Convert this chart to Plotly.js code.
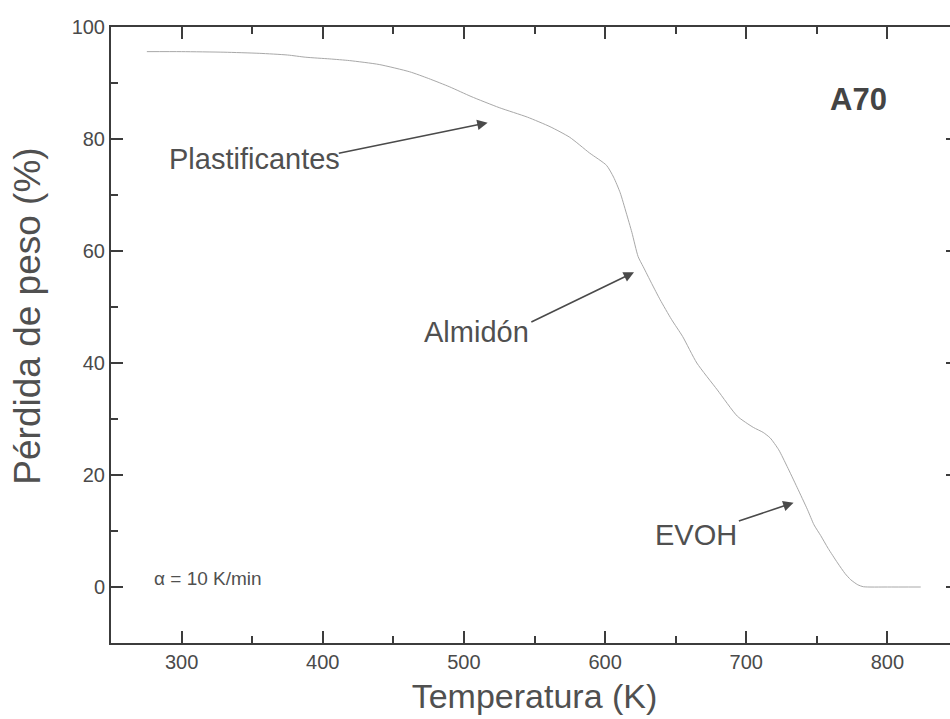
<!DOCTYPE html>
<html>
<head>
<meta charset="utf-8">
<script src="https://cdn.plot.ly/plotly-3.0.1.min.js"></script>
<style>
html,body{margin:0;padding:0;overflow:hidden;background:#ffffff;}
#chart{width:970px;height:719px;}
</style>
</head>
<body>
<div id="chart"></div>
<script>
// Temperature (K) and weight (%)
const temperature = [275.4, 300, 330, 355, 375, 388, 405, 419, 440, 461.6, 475, 490, 505, 525, 545, 561, 575, 589, 601, 606, 610.7, 615, 619, 623.4, 627, 633, 639, 647, 655, 665, 679.5, 693.7, 705, 712, 717, 723, 729, 736, 743.4, 748, 752.7, 758, 764.7, 770, 774, 779, 783, 800, 823.6];
const weight      = [95.6, 95.6, 95.5, 95.3, 95.0, 94.6, 94.3, 94.0, 93.3, 92.0, 90.8, 89.3, 87.6, 85.6, 83.9, 82.2, 80.3, 77.5, 75.3, 73.2, 70.4, 66.8, 63.3, 59.0, 57.2, 54.2, 51.3, 47.8, 44.7, 40.0, 35.2, 30.5, 28.5, 27.6, 26.6, 24.5, 21.5, 17.8, 13.8, 11.1, 9.2, 6.9, 4.3, 2.4, 1.3, 0.4, 0.05, 0.0, 0.0];

const xTickVals = [300, 400, 500, 600, 700, 800];
const yTickVals = [0, 20, 40, 60, 80, 100];

const labelTexts = ["Plastificantes", "Almidón", "EVOH"];
const labelX = [352, 509, 664.6];
const labelY = [76.4, 45.6, 9.3];
const arrowTailX = [410.3, 546.7, 693.7];
const arrowTailY = [77.4, 47.2, 11.7];
const arrowHeadX = [516.8, 620.5, 733.5];
const arrowHeadY = [82.9, 56.2, 15.05];

const sampleName = "A70";
const rateText = "α = 10 K/min";
const xTitle = "Temperatura (K)";
const yTitle = "Pérdida de peso (%)";

const ink = '#3c3c3c';
const font = 'Liberation Sans, Arial, sans-serif';

const annotations = [];
for (let i = 0; i < labelTexts.length; i++) {
  annotations.push({
    x: labelX[i], y: labelY[i], xref: 'x', yref: 'y',
    text: labelTexts[i], showarrow: false,
    xanchor: 'center', yanchor: 'middle',
    font: {family: font, size: 29, color: '#505050'}
  });
  annotations.push({
    x: arrowHeadX[i], y: arrowHeadY[i], xref: 'x', yref: 'y',
    ax: arrowTailX[i], ay: arrowTailY[i], axref: 'x', ayref: 'y',
    text: '', showarrow: true, arrowhead: 2, arrowsize: 1.3,
    arrowwidth: 1.6, arrowcolor: '#4a4a4a', standoff: 0, startstandoff: 0
  });
}
annotations.push({
  x: 779.6, y: 87.05, xref: 'x', yref: 'y', text: '<b>' + sampleName + '</b>',
  showarrow: false, xanchor: 'center', yanchor: 'middle',
  font: {family: font, size: 31, color: '#444'}
});
annotations.push({
  x: 279, y: 1.5, xref: 'x', yref: 'y', text: rateText,
  showarrow: false, xanchor: 'left', yanchor: 'middle',
  font: {family: font, size: 19, color: '#505050'}
});
annotations.push({
  x: -0.099, y: 0.53, xref: 'paper', yref: 'paper', text: yTitle,
  textangle: -90, showarrow: false, xanchor: 'center', yanchor: 'middle',
  font: {family: font, size: 37, color: '#505050'}
});

const trace = {
  x: temperature, y: weight, type: 'scatter', mode: 'lines',
  line: {color: '#a8a8a8', width: 1, shape: 'spline', smoothing: 0.6},
  showlegend: false, hoverinfo: 'skip'
};

const layout = {
  width: 970, height: 719,
  margin: {l: 111, r: 12, t: 27, b: 76},
  xaxis: {
    range: [250, 850], tickvals: xTickVals,
    showline: true, linecolor: ink, linewidth: 2,
    mirror: 'ticks', ticks: 'inside', ticklen: 12, tickwidth: 2, tickcolor: ink,
    showgrid: false, zeroline: false,
    minor: {tickvals: [350, 450, 550, 650, 750], ticks: 'inside', ticklen: 7, tickwidth: 2, tickcolor: ink, showgrid: false},
    tickfont: {family: font, size: 20, color: '#4a4a4a'},
    title: {text: xTitle, standoff: 12, font: {family: font, size: 34, color: '#505050'}}
  },
  yaxis: {
    range: [-10, 100], tickvals: yTickVals,
    showline: true, linecolor: ink, linewidth: 2,
    mirror: 'ticks', ticks: 'inside', ticklen: 12, tickwidth: 2, tickcolor: ink,
    showgrid: false, zeroline: false,
    minor: {tickvals: [-10, 10, 30, 50, 70, 90], ticks: 'inside', ticklen: 7, tickwidth: 2, tickcolor: ink, showgrid: false},
    tickfont: {family: font, size: 20, color: '#4a4a4a'}
  },
  annotations: annotations
};

Plotly.newPlot('chart', [trace], layout, {displayModeBar: false, staticPlot: true});
</script>
</body>
</html>
